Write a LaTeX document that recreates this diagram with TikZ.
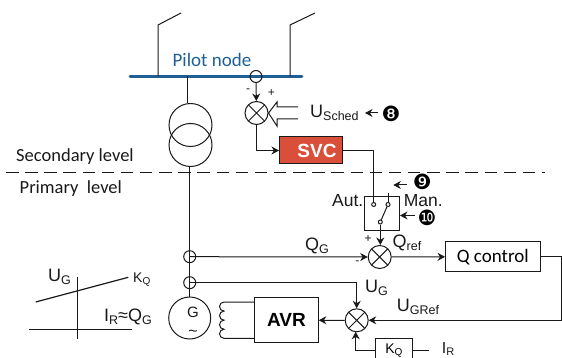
\documentclass[tikz,border=0pt]{standalone}
\usepackage{fontspec}
\setmainfont{Liberation Sans}
\newfontfamily\carl{Carlito}
\newfontfamily\dingf{DejaVu Sans}
\usetikzlibrary{arrows.meta,positioning}
\definecolor{busblue}{HTML}{1F5F96}
\definecolor{svcred}{HTML}{D94F3A}
\newcommand\sublab[2]{{\fontsize{18}{18}\selectfont #1}{\fontsize{12.5}{12.5}\selectfont\raisebox{-2.5pt}{#2}}}
\newcommand\midlab[2]{{\fontsize{16}{16}\selectfont #1}{\fontsize{11}{11}\selectfont\raisebox{-2pt}{#2}}}
\newcommand\smlab[2]{{\fontsize{14}{14}\selectfont #1}{\fontsize{10}{10}\selectfont\raisebox{-2pt}{#2}}}
\tikzset{ln/.style={line width=1pt,draw=black!90},arr/.style={ln,-{Stealth[length=7.5pt,width=8pt]}},
sumx/.style={ln,circle,minimum size=23pt,inner sep=0pt,path picture={\draw[ln](path picture bounding box.north west)--(path picture bounding box.south east)(path picture bounding box.north east)--(path picture bounding box.south west);}},
ring/.style={ln,circle,minimum size=12pt,inner sep=0pt},pin/.style={ln,circle,minimum size=4pt,inner sep=0pt},
blk/.style={ln,rectangle,inner sep=0pt},txt/.style={inner sep=0pt,text=black!90},lvl/.style={txt,anchor=west,font=\carl\fontsize{18.5}{19}\selectfont},
num/.style={inner sep=0pt,font=\dingf\fontsize{21}{21}\selectfont},sgn/.style={txt,font=\fontsize{12}{12}\selectfont}}
\begin{document}
\begin{tikzpicture}[x=1pt,y=-1pt]
\useasboundingbox(0,0)rectangle(562,358);
\coordinate(busL)at(130,76.5);\coordinate(busR)at(302,76.5);
\coordinate(fdA)at(158,76.5);\coordinate(fdB)at(290,76.5);\coordinate(trTap)at(187.5,76.5);
\draw[line width=2.6pt,busblue,line cap=round](busL)--(busR);
\draw[ln](fdA)--(158,25)--(181,13);\draw[ln](fdB)--(290,25)--(315,13);
\node[txt,text=busblue,font=\carl\fontsize{19}{19}\selectfont](pilot)at(212,60){Pilot node};
\node[ln,draw,circle,minimum size=43pt,inner sep=0pt](trA)at(190.5,125){};
\node[ln,draw,circle,minimum size=43pt,inner sep=0pt](trB)at(190.5,145){};
\draw[ln](trTap)--(trTap|-trA.north);
\node[ring,draw](tap)at(256,76.5){};
\node[sumx,draw](sumU)at(256.5,113){};
\node[blk,draw,fill=svcred,minimum width=63pt,minimum height=27pt,text=white,font=\bfseries\fontsize{19}{19}\selectfont](svc)at(311,150.5){\hspace*{12pt}SVC};
\draw[arr](tap)--(sumU);
\draw[arr](sumU.south)|-(svc.west);
\node[sgn](mU)at(248,91){-};\node[sgn](pU)at(271.5,93){+};
\coordinate(schA)at(298,107);\coordinate(schB)at(298,119);
\draw[ln,line join=miter](schA)--(277,107)--(277,102)--(sumU.east)--(277,126)--(277,119)--(schB);
\node[txt,anchor=west](usch)at(310,113){\sublab{U}{Sched}};
\node[num](n8)at(391,113.5){❽};\coordinate(a8)at(378,113);\draw[arr](a8)--(365,113);
\node[lvl](sec)at(16,157){Secondary level};\node[lvl](pri)at(19.5,189){Primary\ \ level};
\coordinate(dashL)at(6,173);\coordinate(dashR)at(545,173);
\draw[ln,dash pattern=on 12.5pt off 6.64pt](dashL)--(dashR);
\node[blk,draw,minimum width=34.5pt,minimum height=33.5pt](sw)at(382.2,213.4){};
\node[pin,draw](swA)at(373.7,204.5){};\node[pin,draw](swM)at(388,204.5){};\node[pin,draw](swC)at(380.3,222){};
\draw[ln](svc.east)-|(swA.north);
\draw[ln](swC)--(swM);\draw[ln](swM.north)--(388,192.7);
\node[txt](aut)at(347.7,201){\fontsize{17.5}{17.5}\selectfont Aut.};\node[txt](man)at(423.3,200.5){\fontsize{17.5}{17.5}\selectfont Man.};
\node[num](n9)at(422.3,182){❾};\coordinate(a9)at(406.7,185);\draw[arr](a9)--(393.3,185);
\node[num](n10)at(427,217.5){❿};\coordinate(a10)at(415,215.5);\draw[arr](a10)--(sw.east|-a10);
\node[sumx,draw](sumQ)at(379.7,257){};
\draw[arr](swC)--(swC|-sumQ.north);
\node[sgn](pQ)at(368,239.5){+};\node[sgn](mQ)at(357.3,263){-};
\node[txt,anchor=west](qref)at(392.5,243){\sublab{Q}{ref}};
\node[blk,draw,minimum width=94.5pt,minimum height=29.5pt,font=\carl\fontsize{19}{19}\selectfont](qctl)at(492.8,256.7){Q control};
\draw[arr](sumQ)--(qctl);
\node[ring,draw](jq)at(189.7,256.7){};\node[ring,draw](ju)at(189.7,282.7){};
\node[ln,draw,circle,minimum size=42pt,inner sep=0pt](gen)at(189.7,318){};
\node[txt,font=\fontsize{15}{15}\selectfont](gG)at(193,312.7){G};\node[txt,font=\fontsize{16}{16}\selectfont](gT)at(193,333){\textasciitilde};
\draw[ln](jq|-trB.south)--(jq.center)--(ju.center)--(gen.north);
\draw[arr](jq.center)--(sumQ.west);
\node[txt,anchor=west](qg)at(305,246){\sublab{Q}{G}};
\node[blk,draw,minimum width=63.6pt,minimum height=45pt,font=\bfseries\fontsize{19}{19}\selectfont](avr)at(286.5,320.2){\raisebox{-2pt}{AVR}};
\node[sumx,draw](sumG)at(356.7,320.3){};
\draw[arr](ju.center)-|(sumG.north);
\draw[arr](sumG)--(avr);
\node[txt,anchor=west](ug)at(365,288){\sublab{U}{G}};
\coordinate(ctlR)at(561.5,256.7);
\draw[arr](qctl.east)--(ctlR)|-(sumG.east);
\node[txt,anchor=west](ugr)at(396.7,306.7){\sublab{U}{GRef}};
\node[blk,draw,minimum width=37.7pt,minimum height=24pt](kq)at(393.9,350.3){\raisebox{-0.5pt}{\smlab{K}{Q}}};
\draw[arr](kq.west)-|(355.7,331.8);
\coordinate(irE)at(429,350.3);\draw[ln](kq.east)--(irE);
\node[txt,anchor=west](ir)at(441.7,349){\midlab{I}{R}};
\coordinate(coilT)at(224,302);\coordinate(coilB)at(224,338.3);
\draw[ln](avr.west|-coilT)--(coilT) arc(-90:-270:4.5 and 4.54) arc(-90:-270:4.5 and 4.54) arc(-90:-270:4.5 and 4.54) arc(-90:-270:4.5 and 4.54)--(avr.west|-coilB);
\coordinate(axT)at(77.7,276.7);\coordinate(axB)at(77.7,339.3);\coordinate(axL)at(29,329.3);\coordinate(axR)at(132.3,329.3);
\coordinate(slA)at(35.7,302);\coordinate(slB)at(128.3,277.3);
\draw[ln](axT)--(axB);\draw[ln](axL)--(axR);\draw[ln,line width=1.2pt](slA)--(slB);
\node[txt,anchor=west](ugc)at(48,277){\sublab{U}{G}};
\node[txt,anchor=west](kqc)at(133,280){\smlab{K}{Q}};
\node[txt,anchor=west,font=\fontsize{18}{18}\selectfont](irq)at(104,317){\sublab{I}{R}≈\sublab{Q}{G}};
\end{tikzpicture}
\end{document}
